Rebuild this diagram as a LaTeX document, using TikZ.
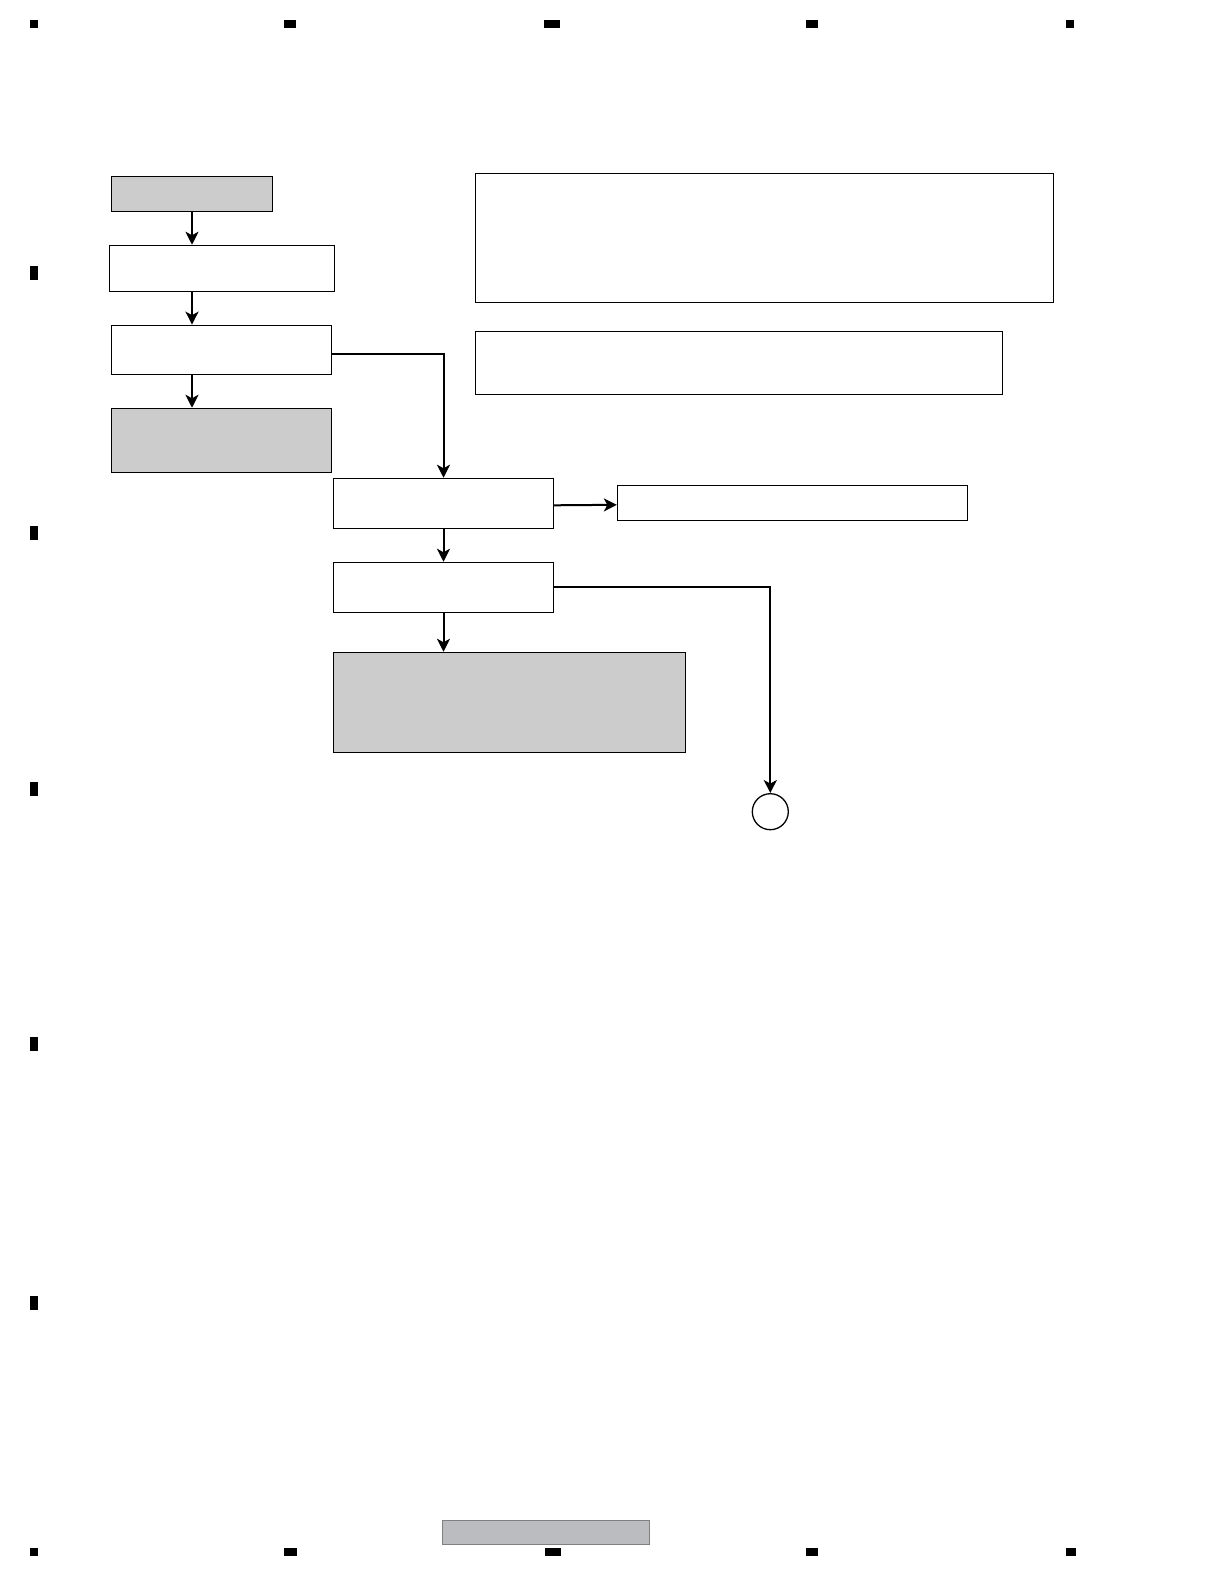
\documentclass[tikz,border=0pt]{standalone}
\usepackage{tikz}
\usetikzlibrary{arrows.meta,calc,positioning}
\definecolor{figG}{RGB}{204,204,204}
\definecolor{barG}{RGB}{187,188,192}
\begin{document}
\begin{tikzpicture}[x=1pt,y=-1pt,>={Stealth[length=13pt,width=13pt,inset=3.5pt]},
  stepbox/.style={draw=black,line width=1.1pt,inner sep=0pt,fill=white},
  grbox/.style={stepbox,fill=figG},
  flow/.style={->,line width=2pt},
  regmark/.style={fill=black}]
\useasboundingbox (0,0) rectangle (1224,1584);
% crop marks
\foreach \a/\b in {30/38,284/296,544/560,806/818,1066/1074} \fill[regmark] (\a,20.3) rectangle (\b,27.7);
\foreach \a/\b in {30/38,284/297,545/561,806/818,1066/1076} \fill[regmark] (\a,1548.3) rectangle (\b,1555.5);
\foreach \y in {273,533,789,1044,1303} \fill[regmark] (30,\y-7) rectangle (38,\y+7);
\filldraw[fill=barG,draw=black!50,line width=1pt] (442.3,1520.3) rectangle (649.3,1544.3);
% flow boxes
\node[grbox,minimum width=161pt,minimum height=35pt] (start) at (192,193.7) {};
\node[stepbox,minimum width=225pt,minimum height=46pt] (s1) at (222,268.3) {};
\node[stepbox,minimum width=220pt,minimum height=49pt] (s2) at (221.3,349.7) {};
\node[grbox,minimum width=220pt,minimum height=64pt] (end1) at (221.3,440.3) {};
\node[stepbox,minimum width=220pt,minimum height=50pt] (s3) at (443.5,503.3) {};
\node[stepbox,minimum width=350pt,minimum height=35pt] (s3r) at (792.4,502.8) {};
\node[stepbox,minimum width=220pt,minimum height=50pt] (s4) at (443.5,587.3) {};
\node[grbox,minimum width=352pt,minimum height=100pt] (end2) at (509.5,702.3) {};
\node[draw,circle,line width=1.3pt,minimum size=36pt,inner sep=0pt] (cont) at (770.3,811.7) {};
% notes
\node[stepbox,minimum width=578pt,minimum height=129pt] (note1) at (764.2,237.8) {};
\node[stepbox,minimum width=527pt,minimum height=63pt] (note2) at (739.3,362.8) {};
% connectors
\draw[flow] (start.south) -- (start.south |- s1.north);
\draw[flow] (start.south |- s1.south) -- (start.south |- s2.north);
\draw[flow] (start.south |- s2.south) -- (start.south |- end1.north);
\draw[flow] ([yshift=-4pt]s2.east) -| (s3.north);
\draw[flow] ([yshift=-2pt]s3.east) -- ([yshift=-2pt]s3r.west);
\draw[flow] (s3.south) -- (s4.north);
\draw[flow] (s4.south) -- (s4.south |- end2.north);
\draw[flow] (s4.east) -| (cont.north);
\end{tikzpicture}
\end{document}
